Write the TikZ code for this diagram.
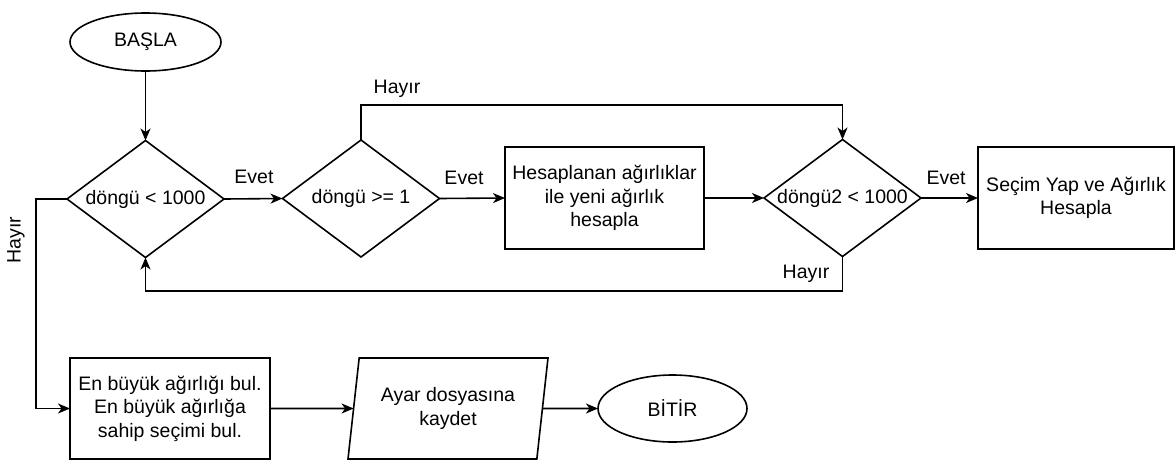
\documentclass[tikz,border=0pt]{standalone}
\usepackage{fontspec}
\setmainfont{Liberation Sans}
\usetikzlibrary{shapes.geometric,arrows.meta}
\begin{document}
\begin{tikzpicture}[x=1pt,y=-1pt,
  every node/.style={font=\fontsize{19.5}{23.5}\selectfont},
  base/.style={draw=black,line width=1.6pt,inner sep=0pt,outer sep=0pt},
  term/.style={base,ellipse,minimum width=151pt,minimum height=58pt},
  proc/.style={base,rectangle,align=center},
  cond/.style={base,diamond,minimum width=157pt,minimum height=117pt},
  io/.style={base,trapezium,trapezium left angle=75,trapezium right angle=105,
     trapezium stretches body,minimum width=200pt,minimum height=101pt,align=center},
  lab/.style={inner sep=1pt},
  flow/.style={line width=1.6pt,-{Stealth[length=12pt,width=10pt,inset=3.5pt]}},
  plain/.style={line width=1.6pt}]
\useasboundingbox (0,0) rectangle (1175,464);

\node[term] (start) at (145.5,42) {BAŞLA};
\node[cond,label={[name=d1t]center:döngü < 1000}] (d1) at (145.5,199) {};
\node[cond,label={[name=d2t]center:döngü >= 1}] (d2) at (361,198.5) {};
\node[proc,minimum width=199pt,minimum height=102pt] (r1) at (604.5,198)
  {Hesaplanan ağırlıklar\\ile yeni ağırlık\\hesapla};
\node[cond,label={[name=d3t]center:döngü2 < 1000}] (d3) at (842.5,198) {};
\node[proc,minimum width=196pt,minimum height=102pt] (r2) at (1076,198)
  {Seçim Yap ve Ağırlık\\Hesapla};
\node[proc,minimum width=200pt,minimum height=101pt] (r3) at (170,408.5)
  {En büyük ağırlığı bul.\\En büyük ağırlığa\\sahip seçimi bul.};
\node[io] (par) at (448,408.5) {Ayar dosyasına\\kaydet};
\node[term,minimum width=149pt,minimum height=67pt] (stop) at (672.5,408.5) {BİTİR};

\coordinate (top) at (600,105);
\coordinate (bot) at (500,291);
\coordinate (lft) at (36,300);

\draw[flow] (start) -- (d1.north);
\draw[flow] (d1.east) -- (d2.west);
\draw[flow] (d2.east) -- (r1.west);
\draw[flow] (r1.east) -- (d3.west);
\draw[flow] (d3.east) -- (r2.west);
\draw[flow] (d2.north) |- (top) -| (d3.north);
\draw[flow] (d3.south) |- (bot) -| (d1.south);
\draw[flow] (d1.west) -| (lft) |- (r3.west);
\draw[flow] (r3.east) -- (par.west);
\draw[flow] (par.east) -- (stop.west);

\node[lab] (l1) at (254,177) {Evet};
\node[lab] (l2) at (464,178) {Evet};
\node[lab] (l3) at (946,178) {Evet};
\node[lab] (l4) at (397,89) {Hayır};
\node[lab] (l5) at (806,274) {Hayır};
\node[lab,rotate=90] (l6) at (16,240) {Hayır};
\end{tikzpicture}
\end{document}
